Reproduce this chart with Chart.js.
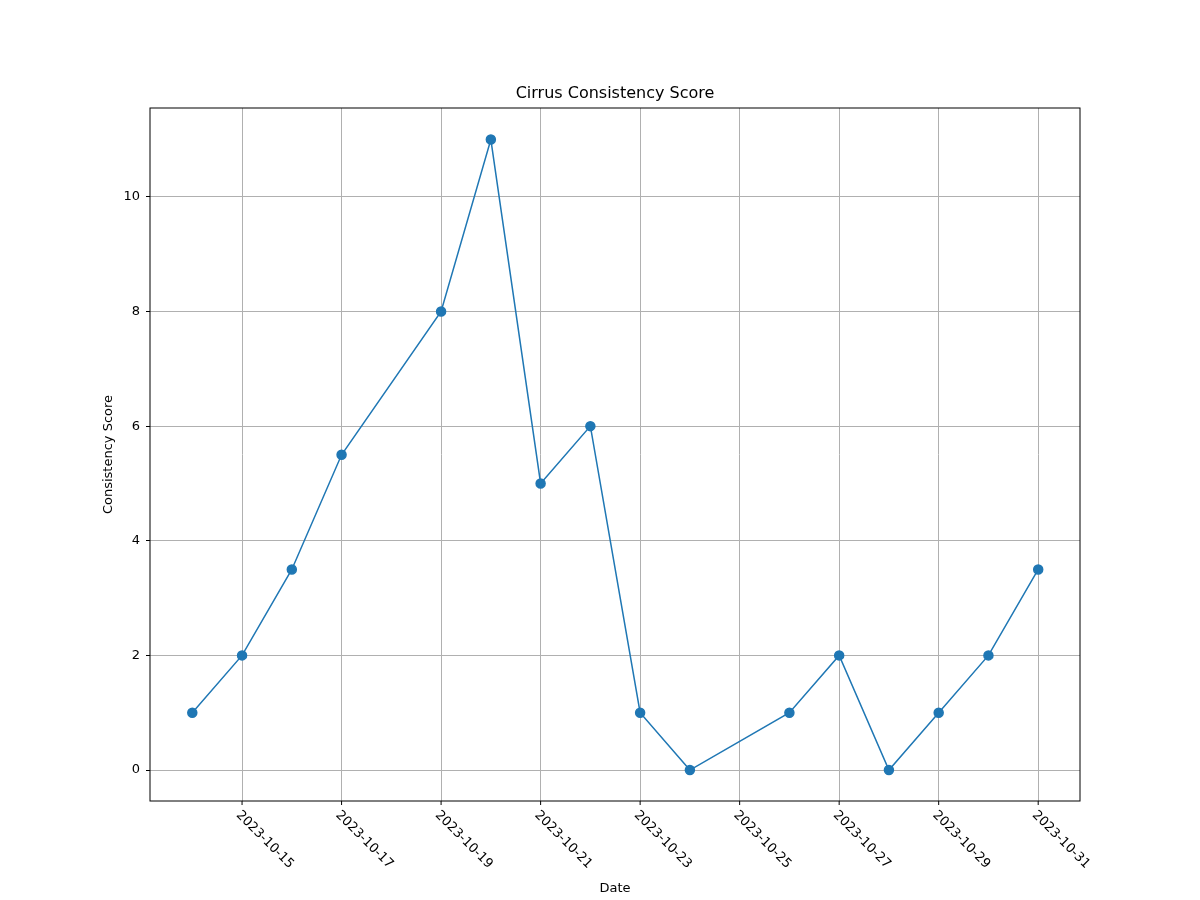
<!DOCTYPE html>
<html>
<head>
<meta charset="utf-8">
<script src="https://cdn.jsdelivr.net/npm/chart.js@4/dist/chart.umd.min.js"></script>
<style>body{margin:0;background:#fff}</style>
</head>
<body>
<canvas id="myChart" width="1200" height="900"></canvas>
<script>
// day of October 2023
const days = [14,15,16,17,19,20,21,22,23,24,26,27,28,29,30,31];
const scores = [1,2,3.5,5.5,8,11,5,6,1,0,1,2,0,1,2,3.5];
const xTicks = [15,17,19,21,23,25,27,29,31];
const yTicks = [0,2,4,6,8,10];
const font = "DejaVu Sans";

const textPlugin = {
    id: 'texts',
    afterDraw(chart) {
        const c = chart.ctx, a = chart.chartArea, x = chart.scales.x;
        c.save();
        c.strokeStyle = '#000'; c.lineWidth = 1;
        c.strokeRect(a.left, a.top, a.right - a.left, a.bottom - a.top);
        c.fillStyle = '#000';
        c.font = '13px ' + font;
        xTicks.forEach(d => {
            const px = x.getPixelForValue(d);
            c.beginPath(); c.moveTo(px, a.bottom); c.lineTo(px, a.bottom + 4); c.stroke();
            c.save();
            c.translate(px - 4, a.bottom + 12);
            c.rotate(Math.PI / 4);
            c.textAlign = 'left'; c.textBaseline = 'middle';
            c.fillText('2023-10-' + d, 0, 0);
            c.restore();
        });
        c.textAlign = 'center'; c.textBaseline = 'middle';
        c.fillText('Date', (a.left + a.right) / 2, 889);
        c.save();
        c.translate(109, (a.top + a.bottom) / 2);
        c.rotate(-Math.PI / 2);
        c.fillText('Consistency Score', 0, 0);
        c.restore();
        c.font = '16px ' + font;
        c.fillText('Cirrus Consistency Score', (a.left + a.right) / 2, 94);
        c.restore();
    }
};

new Chart(document.getElementById("myChart"), {
    type: 'line',
    data: {
        datasets: [{
            data: days.map((d, i) => ({x: d, y: scores[i]})),
            borderColor: '#1f77b4',
            backgroundColor: '#1f77b4',
            borderWidth: 1.5,
            pointRadius: 4.5,
            pointHoverRadius: 4.5,
            tension: 0
        }]
    },
    options: {
        responsive: false,
        animation: false,
        layout: { padding: { top: 108, right: 120, bottom: 99, left: 0 } },
        plugins: { legend: { display: false }, tooltip: { enabled: false } },
        scales: {
            x: {
                type: 'linear', min: 13.15, max: 31.84,
                afterBuildTicks: s => { s.ticks = xTicks.map(v => ({value: v})); },
                afterFit: s => { s.height = 0; },
                ticks: { display: false },
                grid: { color: '#b0b0b0', drawTicks: false },
                border: { display: false }
            },
            y: {
                min: -0.54, max: 11.55,
                afterBuildTicks: s => { s.ticks = yTicks.map(v => ({value: v})); },
                afterFit: s => { s.width = 150; },
                ticks: { color: '#000', font: { family: font, size: 13 }, padding: 6 },
                grid: { color: '#b0b0b0', tickLength: 4, tickColor: '#000' },
                border: { display: false }
            }
        }
    },
    plugins: [textPlugin]
});
</script>
</body>
</html>
